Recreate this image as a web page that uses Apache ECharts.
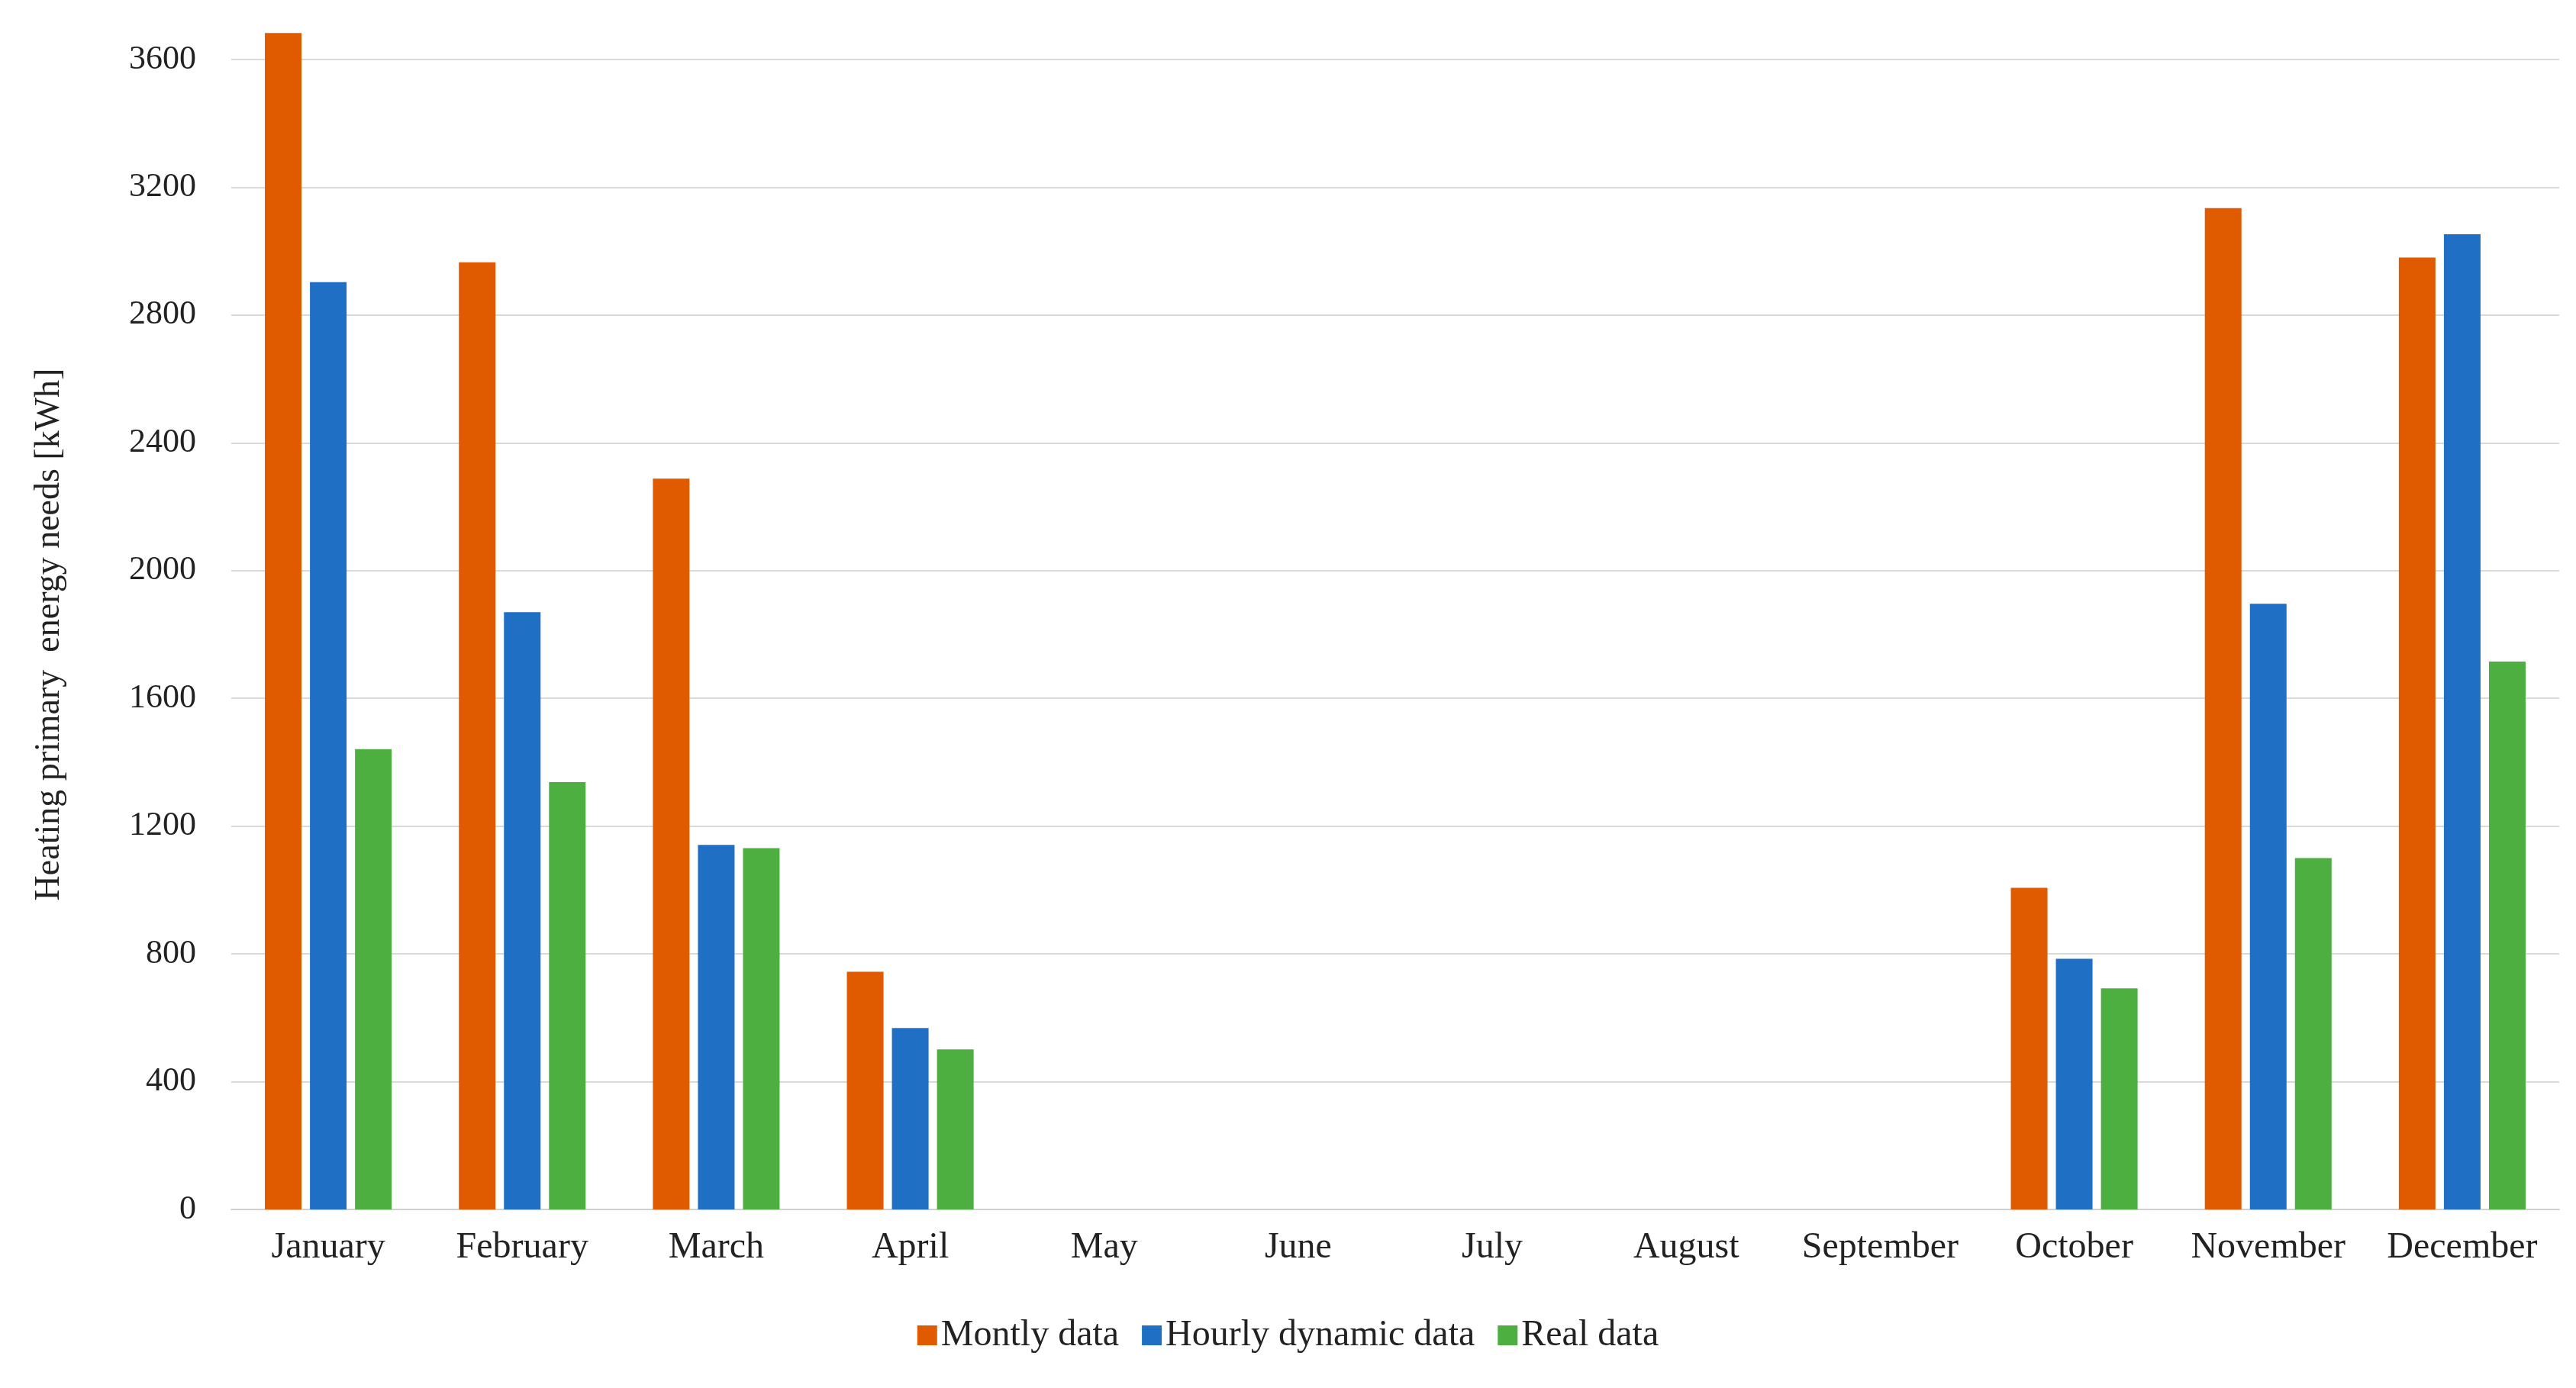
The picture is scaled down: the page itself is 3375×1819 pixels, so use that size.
<!DOCTYPE html>
<html><head><meta charset="utf-8">
<script src="https://cdn.jsdelivr.net/npm/echarts@6/dist/echarts.min.js"></script>
<style>html,body{margin:0;padding:0;background:#fff}#c{width:3375px;height:1819px}</style>
</head><body><div id="c"></div>
<script>
const categories = ['January','February','March','April','May','June','July','August','September','October','November','December'];
const monthly = [3683, 2965, 2288, 744, 0, 0, 0, 0, 0, 1007, 3135, 2980];
const hourly  = [2903, 1870, 1141, 568, 0, 0, 0, 0, 0, 785, 1896, 3053];
const real    = [1441, 1338, 1131, 501, 0, 0, 0, 0, 0, 692, 1100, 1715];
const seriesNames = ['Montly data','Hourly dynamic data','Real data'];
const colors = ['#E05A00','#1F6FC5','#4CAF3F'];
const font = 'Liberation Serif';
const chart = echarts.init(document.getElementById('c'));
chart.setOption({
  color: colors,
  textStyle:{fontFamily:font},
  grid:{left:303, right:22, top:78, bottom:1819-1585},
  legend:{bottom:40, itemWidth:26, itemHeight:26, itemGap:30, icon:'rect',
    textStyle:{fontFamily:font, fontSize:48, color:'#222'}},
  xAxis:{type:'category', data:categories,
    axisLine:{lineStyle:{color:'#d0d0d0', width:2}}, axisTick:{show:false},
    axisLabel:{fontFamily:font, fontSize:48, color:'#222', margin:26, interval:0}},
  yAxis:{type:'value', min:0, max:3600, interval:400,
    name:'Heating primary  energy needs [kWh]', nameLocation:'middle', nameGap:215,
    nameTextStyle:{fontFamily:font, fontSize:46, color:'#222'},
    axisLine:{show:false}, axisTick:{show:false},
    axisLabel:{fontFamily:font, fontSize:44, color:'#222', margin:46, formatter:v=>String(v)},
    splitLine:{lineStyle:{color:'#d9d9d9', width:2}}},
  series:[
    {name:seriesNames[0], type:'bar', data:monthly, barWidth:48, barGap:'23%', clip:false},
    {name:seriesNames[1], type:'bar', data:hourly, barWidth:48, barGap:'23%', clip:false},
    {name:seriesNames[2], type:'bar', data:real, barWidth:48, barGap:'23%', clip:false}
  ]
});
</script></body></html>
